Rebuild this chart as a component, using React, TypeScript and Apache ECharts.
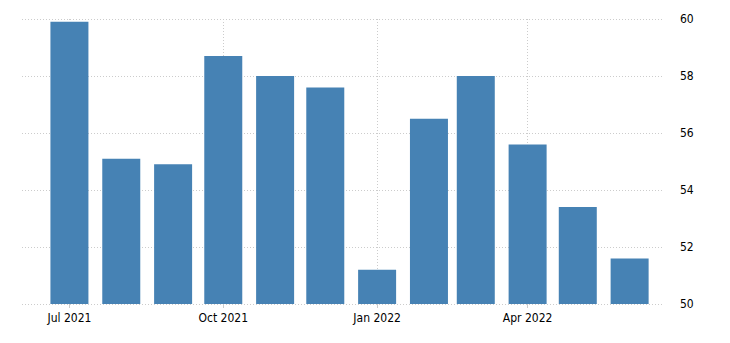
import React, { useEffect, useRef } from "react";
import * as echarts from "echarts";

const months = [
  "2021-07-01", "2021-08-01", "2021-09-01", "2021-10-01", "2021-11-01", "2021-12-01",
  "2022-01-01", "2022-02-01", "2022-03-01", "2022-04-01", "2022-05-01", "2022-06-01",
];
const values = [59.9, 55.1, 54.9, 58.7, 58.0, 57.6, 51.2, 56.5, 58.0, 55.6, 53.4, 51.6];
// ECharts widens a time axis holding bars by the bar width; these limits widen to ~Jun 3 2021 – Jun 20 2022
const xMin = "2021-06-14";
const xMax = "2022-06-09";
const monthNames = ["Jan", "Feb", "Mar", "Apr", "May", "Jun", "Jul", "Aug", "Sep", "Oct", "Nov", "Dec"];

const toUTC = (s: string) => {
  const [y, m, d] = s.split("-").map(Number);
  return Date.UTC(y, m - 1, d);
};

export default function App() {
  const ref = useRef<HTMLDivElement>(null);
  useEffect(() => {
    if (!ref.current) return;
    const chart = echarts.init(ref.current, undefined, { renderer: "svg" });
    const font = "DejaVu Sans Condensed";
    chart.setOption({
      animation: false,
      useUTC: true,
      grid: { left: 22, right: 68, top: 19, bottom: 39 },
      xAxis: {
        type: "time",
        min: toUTC(xMin),
        max: toUTC(xMax),
        minInterval: 95 * 86400000,
        maxInterval: 95 * 86400000,
        axisLine: { show: false },
        axisTick: { show: true, length: 4, lineStyle: { color: "#cccccc" } },
        axisLabel: {
          showMinLabel: false,
          showMaxLabel: false,
          color: "#000",
          fontFamily: font,
          fontSize: 12,
          margin: 8,
          formatter: (v: number) => {
            const d = new Date(v);
            return monthNames[d.getUTCMonth()] + " " + d.getUTCFullYear();
          },
        },
        splitLine: {
          show: true,
          showMinLine: false,
          showMaxLine: false,
          lineStyle: { color: "#cccccc", type: [1, 2], width: 1 },
        },
      },
      yAxis: {
        type: "value",
        position: "right",
        min: 50,
        max: 60,
        interval: 2,
        axisLine: { show: false },
        axisTick: { show: false },
        axisLabel: { color: "#000", fontFamily: font, fontSize: 12, margin: 18 },
        splitLine: { lineStyle: { color: "#cccccc", type: [1, 2], width: 1 } },
      },
      series: [
        {
          type: "bar",
          data: months.map((m, i) => [toUTC(m), values[i]]),
          barWidth: 38,
          itemStyle: { color: "#4682b4" },
        },
      ],
    });
    return () => chart.dispose();
  }, []);
  return (
    <div
      ref={ref}
      style={{ position: "absolute", left: 0, top: 0, width: 730, height: 343 }}
    />
  );
}
